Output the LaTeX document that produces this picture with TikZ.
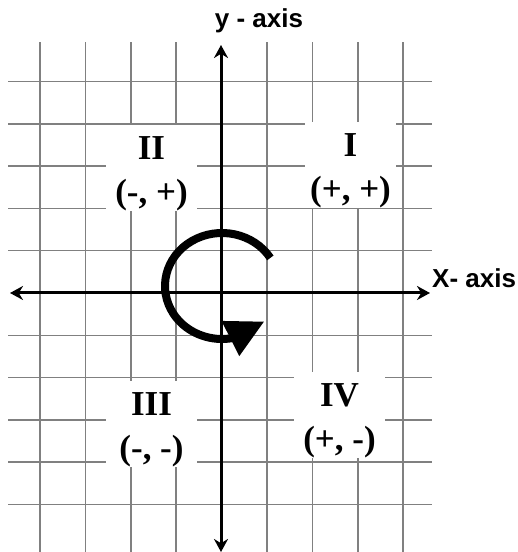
\documentclass[tikz,border=0pt]{standalone}
\usepackage{fontspec}
\setmainfont{Liberation Serif}
\newfontfamily\axisfont{Liberation Sans}
\usetikzlibrary{arrows.meta, bending}

\begin{document}
\begin{tikzpicture}[x=1pt, y=1pt,
    quadrant/.style={fill=white, inner sep=0pt, align=center,
        minimum width=91, minimum height=86,
        font=\fontsize{35}{44}\selectfont\bfseries},
    axislabel/.style={inner sep=0pt, font=\axisfont\fontsize{26}{30}\selectfont\bfseries}]
    \useasboundingbox (0,0) rectangle (518,552);

    % grid paper
    \foreach \k in {1,...,4} {
        \draw[gray, line width=1.5] (221.6-45.4*\k, 0) -- (221.6-45.4*\k, 510);
        \draw[gray, line width=1.5] (221.6+45.4*\k, 0) -- (221.6+45.4*\k, 510);
    }
    \foreach \k in {1,...,5} {
        \draw[gray, line width=1.5] (8, 259+42.3*\k) -- (432, 259+42.3*\k);
        \draw[gray, line width=1.5] (8, 259-42.3*\k) -- (432, 259-42.3*\k);
    }

    % axes
    \coordinate (xleft) at (10, 259);
    \coordinate (xright) at (430, 259);
    \coordinate (ybottom) at (221, 0);
    \coordinate (ytop) at (221, 507);
    \draw[line width=3, {Stealth[length=13, width=14]}-{Stealth[length=13, width=14]}] (xleft) -- (xright);
    \draw[line width=3, {Stealth[length=13, width=14]}-{Stealth[length=13, width=14]}] (ybottom) -- (ytop);
    \node[axislabel, anchor=base] (ylabel) at (259, 524) {y - axis};
    \node[axislabel, anchor=base west] (xlabel) at (432, 264) {X- axis};

    % quadrant labels (white patches over the grid)
    \node[quadrant] (q2) at (151.5, 384) {\rule{0pt}{34pt}II\\(-, +)};
    \node[quadrant] (q1) at (350.5, 386.5) {\rule{0pt}{34pt}I\\(+, +)};
    \node[quadrant] (q3) at (151.5, 128) {\rule{0pt}{34pt}III\\(-, -)};
    \node[quadrant] (q4) at (339.5, 136.5) {\rule{0pt}{34pt}IV\\(+, -)};

    % direction of numbering
    \draw[line width=8, -{Triangle[length=38, width=37, flex]}]
        ([shift={(32:57 and 53)}]222, 266) arc[start angle=32, end angle=318, x radius=57, y radius=53];
\end{tikzpicture}
\end{document}
